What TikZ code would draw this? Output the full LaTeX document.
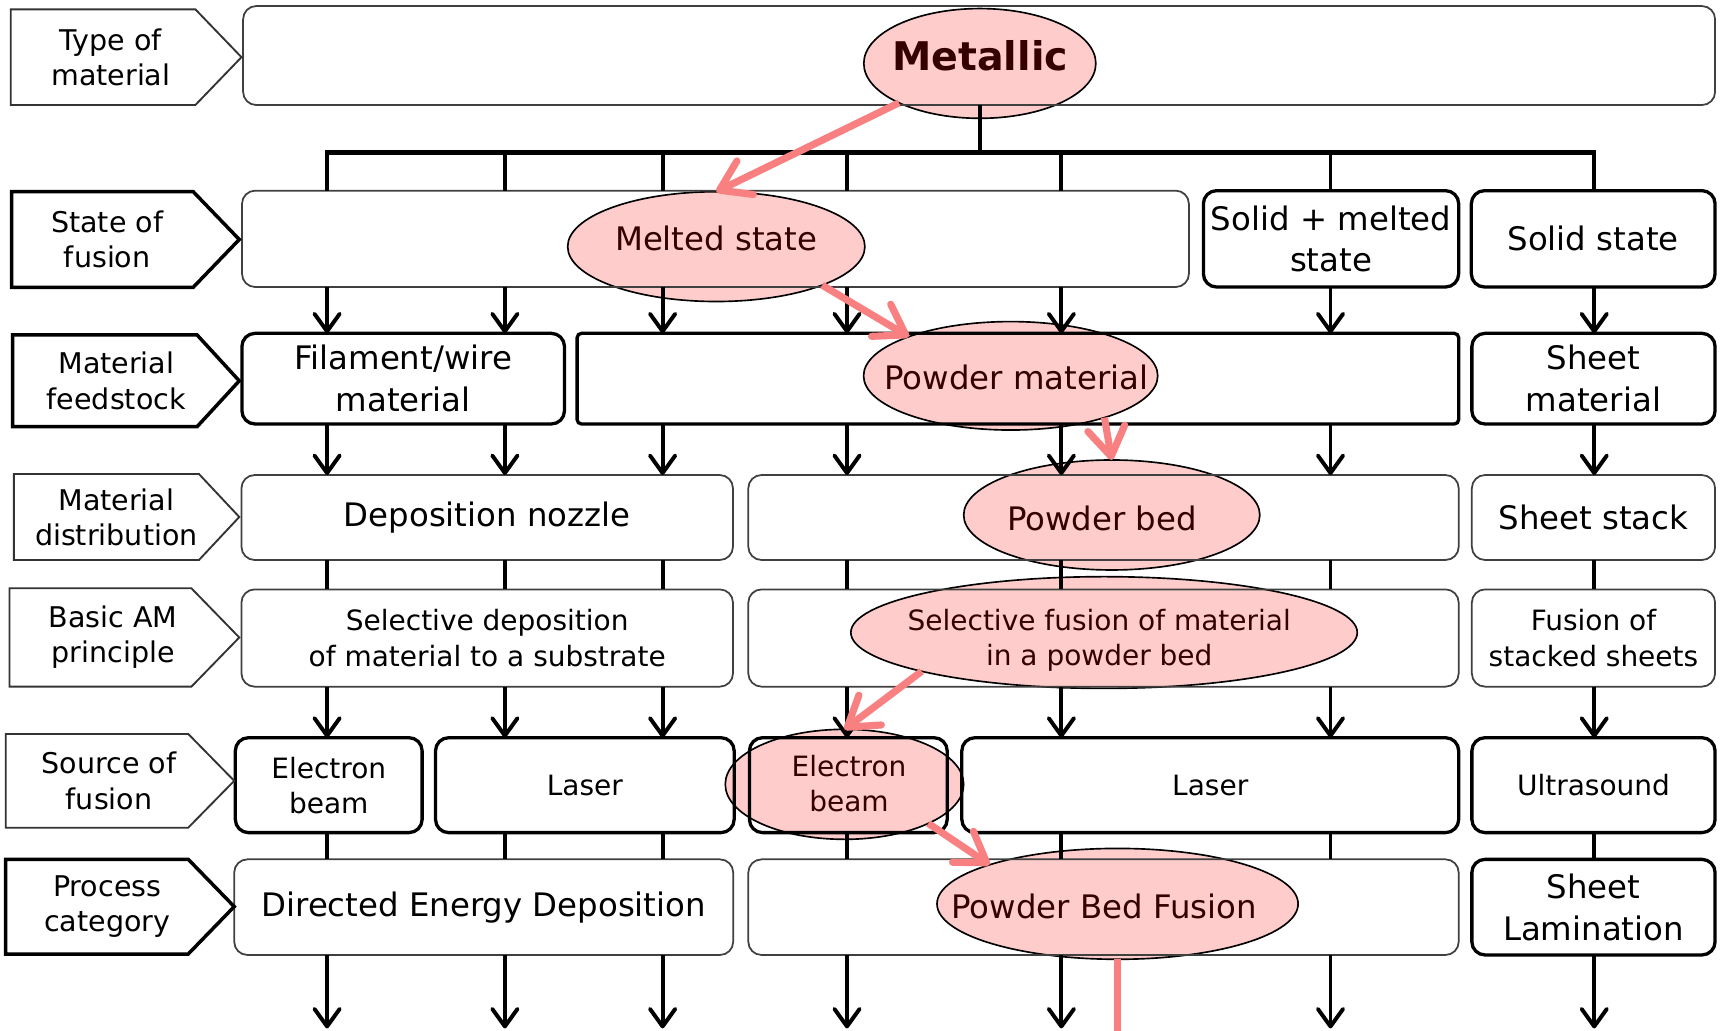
\documentclass[tikz,border=0pt]{standalone}
\usepackage{fontspec}
\setmainfont{DejaVu Sans}
\usetikzlibrary{arrows.meta,shapes.geometric}
\definecolor{ellfill}{RGB}{255,204,204}
\definecolor{pinkarr}{RGB}{248,128,128}
\definecolor{elltext}{RGB}{55,0,0}
\newcommand\fsLab{\fontsize{26}{32}\selectfont}
\newcommand\fsBig{\fontsize{29.5}{38}\selectfont}
\newcommand\fsMid{\fontsize{25.5}{32}\selectfont}
\newcommand\fsMet{\fontsize{36}{40}\selectfont\bfseries}
\begin{document}
\begin{tikzpicture}[x=1pt,y=-1pt,
  every node/.style={inner sep=0pt, outer sep=0pt},
  thinbox/.style={draw=black!75, line width=1.6pt, rounded corners=12pt, align=center, font=\fsBig},
  thickbox/.style={draw=black, line width=3pt, rounded corners=12pt, align=center, font=\fsBig},
  labthin/.style={draw=black!80, line width=1.7pt},
  labthick/.style={draw=black, line width=3.2pt},
  labtext/.style={align=center, font=\fsLab},
  ell/.style={ellipse, draw=black, line width=1.5pt, fill=ellfill},
  etext/.style={align=center, text=elltext},
  conn/.style={draw=black, line width=3.6pt},
  arr/.style={conn, -{Straight Barb[length=16pt,width=23pt,round]}},
  pk/.style={draw=pinkarr, line width=6.5pt, -{Straight Barb[length=26pt,width=34pt,round]}},
]
\fill[white] (0,0) rectangle (1568,939);
\useasboundingbox (0,0) rectangle (1568,939);

% column and level coordinates
\coordinate (k1) at (298,0);
\coordinate (k2) at (460,0);
\coordinate (k3) at (603.7,0);
\coordinate (k4) at (771.7,0);
\coordinate (k5) at (967,0);
\coordinate (k6) at (1212.2,0);
\coordinate (k7) at (1452.5,0);
\coordinate (bus) at (0,139);
\coordinate (bot) at (0,937);
\coordinate (bot2) at (0,941);

% highlighted ellipses (under the lines)
\node[ell, minimum width=211.4pt, minimum height=100pt] (eMet) at (892.7,57.8) {};
\node[ell, minimum width=270.8pt, minimum height=100pt] (eMelt) at (652.6,224.7) {};
\node[ell, minimum width=268pt, minimum height=98.8pt] (ePow) at (920.8,342.4) {};
\node[ell, minimum width=269.8pt, minimum height=100.2pt] (ePB) at (1012.9,469.2) {};
\node[ell, minimum width=461.4pt, minimum height=101.8pt] (eSel) at (1005.9,576.3) {};
\node[ell, minimum width=217.2pt, minimum height=100.2pt] (eEB) at (769.4,714.6) {};
\node[ell, minimum width=329pt, minimum height=101pt] (ePBF) at (1018.2,823.5) {};

% boxes
\node[thinbox, minimum width=1341.1pt, minimum height=90.2pt] (bMat) at (892.05,50.6) {};

\node[thinbox, minimum width=862.7pt, minimum height=87.8pt] (bMelt) at (651.85,217.6) {};
\node[thickbox, minimum width=232.6pt, minimum height=87.8pt] (bSM) at (1212.7,217.6) {Solid + melted\\state};
\node[thickbox, minimum width=222.1pt, minimum height=87.8pt] (bSS) at (1451.55,217.6) {Solid state};

\node[thickbox, minimum width=293.9pt, minimum height=82.6pt] (bFil) at (367.35,345) {Filament/wire\\material};
\node[thickbox, rounded corners=4pt, minimum width=803.2pt, minimum height=82.6pt] (bPow) at (927.4,345) {};
\node[thickbox, minimum width=221.6pt, minimum height=82.6pt] (bSheet) at (1451.8,345) {Sheet\\material};

\node[thinbox, minimum width=447.8pt, minimum height=77.4pt] (bNoz) at (443.9,471.5) {Deposition nozzle};
\node[thinbox, minimum width=647.2pt, minimum height=77.4pt] (bPB) at (1005.4,471.5) {};
\node[thinbox, minimum width=221.6pt, minimum height=77.4pt] (bStack) at (1451.8,471.5) {Sheet stack};

\node[thinbox, font=\fsMid, minimum width=447.8pt, minimum height=88.6pt] (bSD) at (443.9,581.3) {Selective deposition\\of material to a substrate};
\node[thinbox, minimum width=647.2pt, minimum height=88.6pt] (bSF) at (1005.4,581.3) {};
\node[thinbox, font=\fsMid, minimum width=221.6pt, minimum height=88.6pt] (bFS) at (1451.8,581.3) {Fusion of\\stacked sheets};

\node[thickbox, font=\fsMid, minimum width=170.2pt, minimum height=86.5pt] (bEB1) at (299.5,715.35) {Electron\\beam};
\node[thickbox, font=\fsMid, minimum width=272.1pt, minimum height=86.5pt] (bL1) at (532.85,715.35) {Laser};
\node[thickbox, minimum width=180.2pt, minimum height=86.5pt] (bEB2) at (772.9,715.35) {};
\node[thickbox, font=\fsMid, minimum width=452.7pt, minimum height=86.5pt] (bL2) at (1102.65,715.35) {Laser};
\node[thickbox, font=\fsMid, minimum width=221.6pt, minimum height=86.5pt] (bUS) at (1451.8,715.35) {Ultrasound};

\node[thinbox, minimum width=454.6pt, minimum height=87.1pt] (bDED) at (440.7,826.5) {Directed Energy Deposition};
\node[thinbox, minimum width=647.2pt, minimum height=87.1pt] (bPBF) at (1005.4,826.5) {};
\node[thickbox, minimum width=221.6pt, minimum height=87.1pt] (bSL) at (1451.8,826.5) {Sheet\\Lamination};

% side labels
\draw[labthin] (9.8,8.5) -- (178,8.5) -- (220,52.1) -- (178,95.7) -- (9.8,95.7) -- cycle;
\node[labtext] (lType) at (101,52.1) {Type of\\material};
\draw[labthick] (10.5,174.6) -- (176,174.6) -- (218,218.2) -- (176,261.8) -- (10.5,261.8) -- cycle;
\node[labtext] (lState) at (97.7,218.2) {State of\\fusion};
\draw[labthick] (11.5,305.2) -- (179.6,305.2) -- (218,347) -- (179.6,388.7) -- (11.5,388.7) -- cycle;
\node[labtext] (lFeed) at (106,347) {Material\\feedstock};
\draw[labthin] (12.6,431.9) -- (181.3,431.9) -- (218,471) -- (181.3,510.2) -- (12.6,510.2) -- cycle;
\node[labtext] (lDist) at (106,471) {Material\\distribution};
\draw[labthin] (8.7,536) -- (174.4,536) -- (218,580.8) -- (174.4,625.6) -- (8.7,625.6) -- cycle;
\node[labtext] (lBasic) at (103,580.8) {Basic AM\\principle};
\draw[labthin] (5.2,668.7) -- (171.5,668.7) -- (213.4,711.4) -- (171.5,754.1) -- (5.2,754.1) -- cycle;
\node[labtext] (lSource) at (99.4,711.4) {Source of\\fusion};
\draw[labthick] (5.2,782.9) -- (171.5,782.9) -- (213.4,826) -- (171.5,869.2) -- (5.2,869.2) -- cycle;
\node[labtext] (lProc) at (97.7,826) {Process\\category};

% bus from the type of material
\draw[conn] (bMat.south -| eMet) -- (eMet |- bus);
\draw[conn, line width=4pt] (bMelt.north -| k1) -- (k1 |- bus) -- (k7 |- bus) -- (bSS.north -| k7);
\foreach \ka/\ua in {k2/bMelt,k3/bMelt,k4/bMelt,k5/bMelt,k6/bSM}
  \draw[conn] (\ka |- bus) -- (\ua.north -| \ka);

% row 2 -> row 3
\foreach \ka/\ua/\la in {k1/bMelt/bFil,k2/bMelt/bFil,k3/bMelt/bPow,k4/bMelt/bPow,k5/bMelt/bPow,k6/bSM/bPow,k7/bSS/bSheet}
  \draw[arr] (\ua.south -| \ka) -- (\la.north -| \ka);
% row 3 -> row 4
\foreach \ka/\ua/\la in {k1/bFil/bNoz,k2/bFil/bNoz,k3/bPow/bNoz,k4/bPow/bPB,k5/bPow/bPB,k6/bPow/bPB,k7/bSheet/bStack}
  \draw[arr] (\ua.south -| \ka) -- (\la.north -| \ka);
% row 4 -> row 5
\foreach \ka/\ua/\la in {k1/bNoz/bSD,k2/bNoz/bSD,k3/bNoz/bSD,k4/bPB/bSF,k5/bPB/bSF,k6/bPB/bSF,k7/bStack/bFS}
  \draw[conn] (\ua.south -| \ka) -- (\la.north -| \ka);
% row 5 -> row 6
\foreach \ka/\ua/\la in {k1/bSD/bEB1,k2/bSD/bL1,k3/bSD/bL1,k4/bSF/bEB2,k5/bSF/bL2,k6/bSF/bL2,k7/bFS/bUS}
  \draw[arr] (\ua.south -| \ka) -- (\la.north -| \ka);
% row 6 -> row 7
\foreach \ka/\ua/\la in {k1/bEB1/bDED,k2/bL1/bDED,k3/bL1/bDED,k4/bEB2/bPBF,k5/bL2/bPBF,k6/bL2/bPBF,k7/bUS/bSL}
  \draw[conn] (\ua.south -| \ka) -- (\la.north -| \ka);
% row 7 -> out
\foreach \ka/\ua in {k1/bDED,k2/bDED,k3/bDED,k4/bPBF,k5/bPBF,k6/bPBF,k7/bSL}
  \draw[arr] (\ua.south -| \ka) -- (\ka |- bot);

% texts of the highlighted path
\node[etext, font=\fsMet] (tMet) at (893,51) {Metallic};
\node[etext, font=\fsBig] (tMelt) at (652.6,217) {Melted state};
\node[etext, font=\fsBig] (tPow) at (926,344) {Powder material};
\node[etext, font=\fsBig] (tPB) at (1004,472) {Powder bed};
\node[etext, font=\fsMid] (tSel) at (1001.5,583) {Selective fusion of material\\in a powder bed};
\node[etext, font=\fsMid] (tEB) at (773.5,714) {Electron\\beam};
\node[etext, font=\fsBig] (tPBF) at (1006,826) {Powder Bed Fusion};

% highlighted path arrows
\draw[pk] (eMet) -- (eMelt.north);
\draw[pk] (eMelt.-20) -- (ePow.159);
\draw[pk] (ePow.-24) -- (ePB.north);
\draw[pk] (eSel.192) -- (eEB.north);
\draw[pk] (eEB.-25) -- (ePBF.163);
\draw[draw=pinkarr, line width=6.5pt] (ePBF.south) -- (ePBF.south |- bot2);
\end{tikzpicture}
\end{document}
